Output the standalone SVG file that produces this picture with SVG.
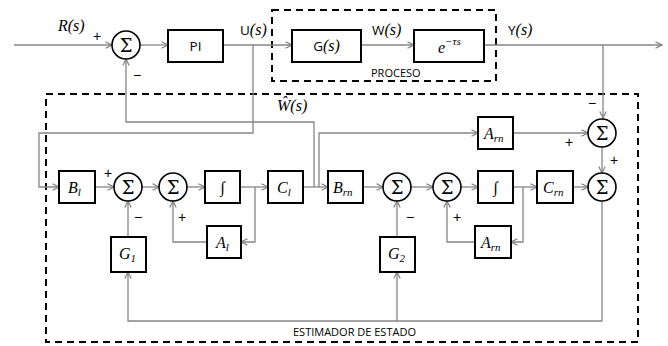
<svg xmlns="http://www.w3.org/2000/svg" width="668" height="346" viewBox="0 0 668 346">
<defs>
<marker id="ar" viewBox="0 0 8 8" refX="7.5" refY="4" markerWidth="8" markerHeight="8" markerUnits="userSpaceOnUse" orient="auto">
<path d="M1,0.8 L7.5,4 L1,7.2" fill="none" stroke="#808080" stroke-width="1.2"/>
</marker>
<style>
.ln{fill:none;stroke:#858585;stroke-width:1.3}
.bx{fill:#fff;stroke:#000;stroke-width:2}
.sm{fill:#fff;stroke:#000;stroke-width:1.6}
.dash{fill:none;stroke:#000;stroke-width:2;stroke-dasharray:7,5}
.sig{font-family:"DejaVu Serif","Liberation Serif",serif;font-size:18px;text-anchor:middle}
.m{font-family:"Liberation Serif",serif;font-style:italic;font-size:16px}
.sub{font-size:11px}
.sf{font-family:"Open Sans","Liberation Sans",sans-serif;font-size:13.5px}
.cap{font-family:"Open Sans","Liberation Sans",sans-serif;font-size:11px}
.pm{font-family:"Liberation Sans",sans-serif;font-size:14px;text-anchor:middle}
</style>
</defs>
<rect width="668" height="346" fill="#fff"/>
<rect class="dash" x="272" y="10" width="224" height="71"/>
<rect class="dash" x="46" y="94" width="592" height="248"/>
<text class="cap" x="371" y="77">PROCESO</text>
<text class="cap" x="293" y="336">ESTIMADOR DE ESTADO</text>
<g id="connectors">
<path class="ln" d="M14,45 H112" marker-end="url(#ar)"/>
<path class="ln" d="M140,45 H168" marker-end="url(#ar)"/>
<path class="ln" d="M223,45 H292" marker-end="url(#ar)"/>
<path class="ln" d="M361,45 H414" marker-end="url(#ar)"/>
<path class="ln" d="M484,45 H662" marker-end="url(#ar)"/>
<path class="ln" d="M603,45 V118" marker-end="url(#ar)"/>
<path class="ln" d="M253,45 V133 H39 V187 H59" marker-end="url(#ar)"/>
<path class="ln" d="M314,187 V122 H126 V59" marker-end="url(#ar)"/>
<path class="ln" d="M319,187 V133 H478" marker-end="url(#ar)"/>
<path class="ln" d="M513,133 H588" marker-end="url(#ar)"/>
<path class="ln" d="M602,147 V173" marker-end="url(#ar)"/>
<path class="ln" d="M95,187 H114" marker-end="url(#ar)"/>
<path class="ln" d="M142,187 H159" marker-end="url(#ar)"/>
<path class="ln" d="M187,187 H205" marker-end="url(#ar)"/>
<path class="ln" d="M240,187 H268" marker-end="url(#ar)"/>
<path class="ln" d="M255,187 V242 H241" marker-end="url(#ar)"/>
<path class="ln" d="M207,242 H173 V201" marker-end="url(#ar)"/>
<path class="ln" d="M128,237 V201" marker-end="url(#ar)"/>
<path class="ln" d="M303,187 H328" marker-end="url(#ar)"/>
<path class="ln" d="M363,187 H383" marker-end="url(#ar)"/>
<path class="ln" d="M411,187 H433" marker-end="url(#ar)"/>
<path class="ln" d="M461,187 H478" marker-end="url(#ar)"/>
<path class="ln" d="M513,187 H537" marker-end="url(#ar)"/>
<path class="ln" d="M523,187 V242 H511" marker-end="url(#ar)"/>
<path class="ln" d="M475,242 H447 V201" marker-end="url(#ar)"/>
<path class="ln" d="M573,187 H588" marker-end="url(#ar)"/>
<path class="ln" d="M397,237 V201" marker-end="url(#ar)"/>
<path class="ln" d="M602,201 V321 H128 V272" marker-end="url(#ar)"/>
<path class="ln" d="M397,321 V272" marker-end="url(#ar)"/>
</g>
<g id="labels">
<text class="m" x="58" y="31">R(s)</text>
<text class="pm" x="97" y="41">+</text>
<text class="pm" x="137" y="80">−</text>
<text x="240" y="35"><tspan class="sf">U</tspan><tspan class="m">(s)</tspan></text>
<text x="372" y="35"><tspan class="sf">W</tspan><tspan class="m">(s)</tspan></text>
<text x="508" y="35"><tspan class="sf">Y</tspan><tspan class="m">(s)</tspan></text>
<text class="m" x="277" y="111">Ŵ(s)</text>
<text class="pm" x="108" y="178">+</text>
<text class="pm" x="138" y="222">−</text>
<text class="pm" x="182" y="222">+</text>
<text class="pm" x="410" y="222">−</text>
<text class="pm" x="457" y="222">+</text>
<text class="pm" x="592" y="108">−</text>
<text class="pm" x="569" y="147">+</text>
<text class="pm" x="614" y="165">+</text>
</g>
<g id="sum1"><circle class="sm" cx="126" cy="45" r="14"/><text class="sig" x="126" y="51.5">Σ</text></g>
<g id="pi"><rect class="bx" x="168" y="30" width="55" height="32"/><text class="sf" x="195.5" y="51" text-anchor="middle">PI</text></g>
<g id="g"><rect class="bx" x="292" y="30" width="69" height="32"/><text x="326.5" y="51" text-anchor="middle"><tspan class="sf">G</tspan><tspan class="m">(s)</tspan></text></g>
<g id="delay"><rect class="bx" x="414" y="30" width="70" height="32"/><text class="m" x="438" y="53">e<tspan class="sub" dy="-8">−τs</tspan></text></g>
<g id="sum7"><circle class="sm" cx="602" cy="133" r="14"/><text class="sig" x="602" y="139.5">Σ</text></g>
<g id="arn1"><rect class="bx" x="478" y="117" width="35" height="32"/><text class="m" x="484" y="139">A<tspan class="sub" dy="3">rn</tspan></text></g>
<g id="bl"><rect class="bx" x="59" y="171" width="36" height="32"/><text class="m" x="68" y="193">B<tspan class="sub" dy="3">l</tspan></text></g>
<g id="sum2"><circle class="sm" cx="128" cy="187" r="14"/><text class="sig" x="128" y="193.5">Σ</text></g>
<g id="sum3"><circle class="sm" cx="173" cy="187" r="14"/><text class="sig" x="173" y="193.5">Σ</text></g>
<g id="int1"><rect class="bx" x="205" y="171" width="35" height="32"/><text class="m" x="222.5" y="193" text-anchor="middle">∫</text></g>
<g id="al"><rect class="bx" x="207" y="226" width="34" height="32"/><text class="m" x="216" y="248">A<tspan class="sub" dy="3">l</tspan></text></g>
<g id="cl"><rect class="bx" x="268" y="171" width="35" height="32"/><text class="m" x="277" y="193">C<tspan class="sub" dy="3">l</tspan></text></g>
<g id="g1"><rect class="bx" x="111" y="237" width="35" height="35"/><text class="m" x="119" y="259">G<tspan class="sub" dy="3">1</tspan></text></g>
<g id="brn"><rect class="bx" x="328" y="171" width="35" height="32"/><text class="m" x="333" y="193">B<tspan class="sub" dy="3">rn</tspan></text></g>
<g id="sum4"><circle class="sm" cx="397" cy="187" r="14"/><text class="sig" x="397" y="193.5">Σ</text></g>
<g id="sum5"><circle class="sm" cx="447" cy="187" r="14"/><text class="sig" x="447" y="193.5">Σ</text></g>
<g id="int2"><rect class="bx" x="478" y="171" width="35" height="32"/><text class="m" x="495.5" y="193" text-anchor="middle">∫</text></g>
<g id="arn2"><rect class="bx" x="475" y="226" width="36" height="32"/><text class="m" x="481" y="248">A<tspan class="sub" dy="3">rn</tspan></text></g>
<g id="crn"><rect class="bx" x="537" y="171" width="36" height="32"/><text class="m" x="543" y="193">C<tspan class="sub" dy="3">rn</tspan></text></g>
<g id="sum6"><circle class="sm" cx="602" cy="187" r="14"/><text class="sig" x="602" y="193.5">Σ</text></g>
<g id="g2"><rect class="bx" x="380" y="237" width="35" height="35"/><text class="m" x="388" y="259">G<tspan class="sub" dy="3">2</tspan></text></g>
</svg>
